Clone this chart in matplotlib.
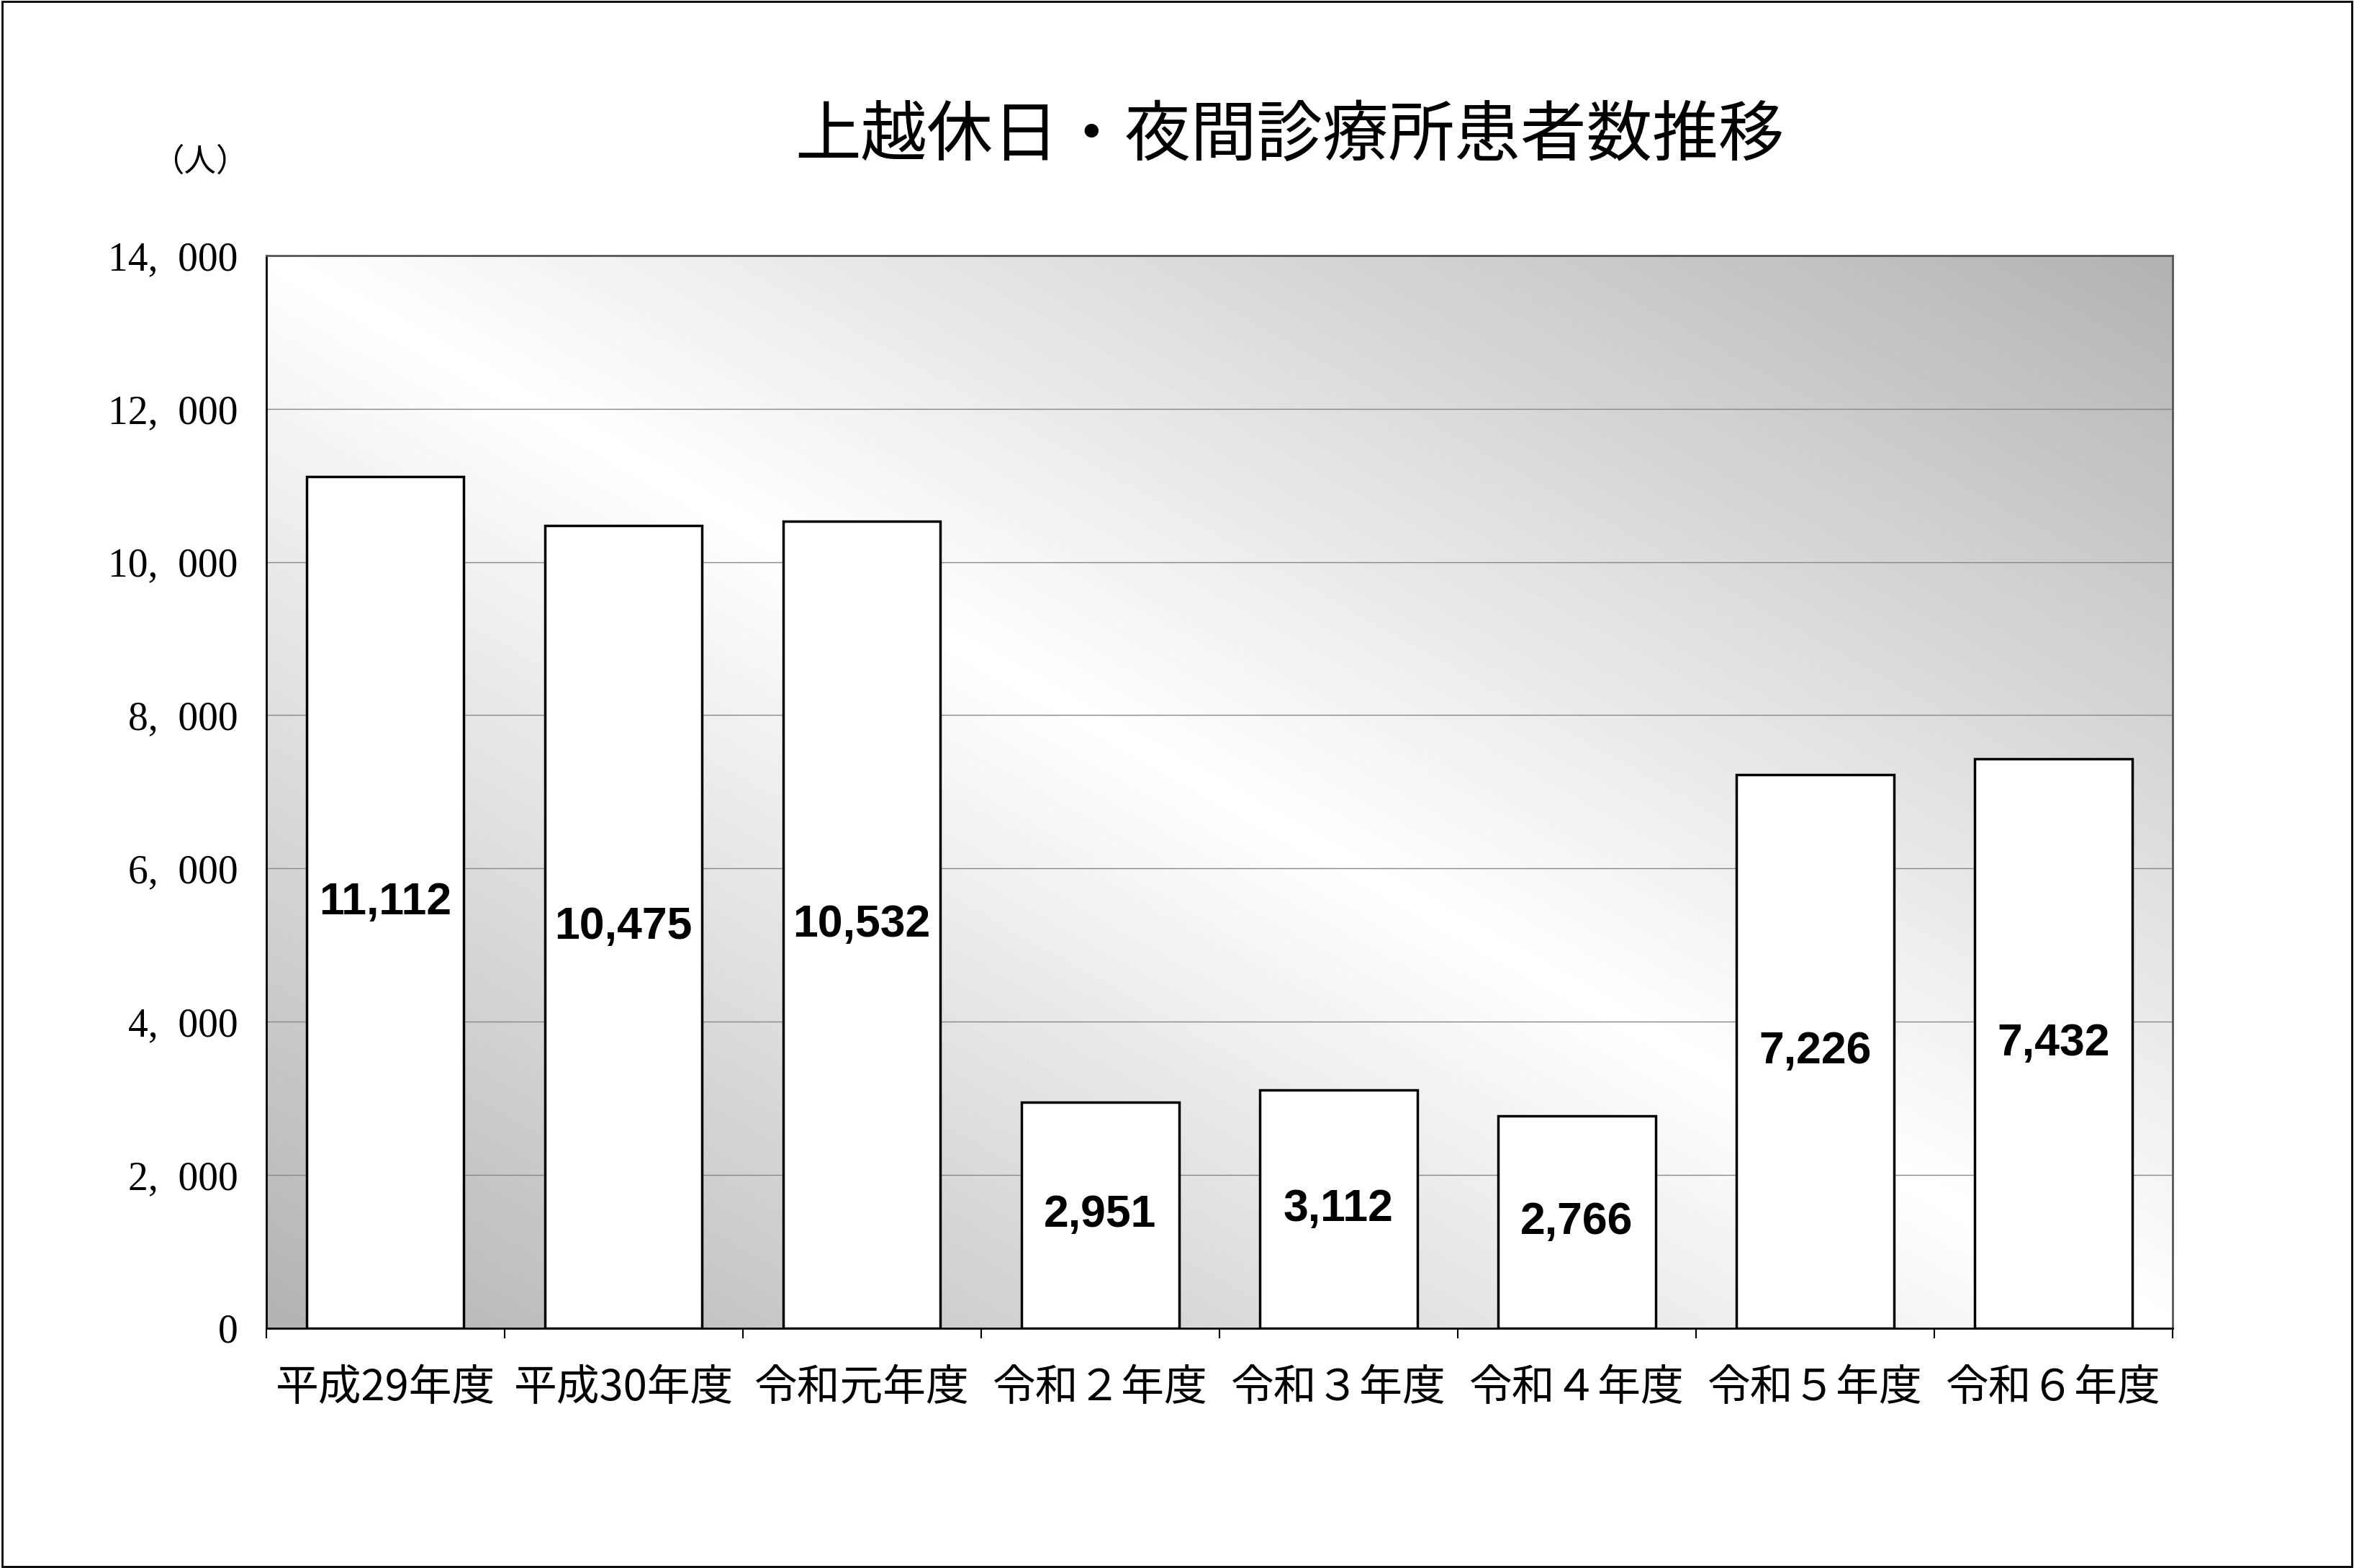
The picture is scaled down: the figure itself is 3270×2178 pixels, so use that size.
import matplotlib
matplotlib.use("Agg")
import matplotlib.pyplot as plt
import numpy as np
from matplotlib.patches import Rectangle

categories = ["平成29年度", "平成30年度", "令和元年度", "令和２年度", "令和３年度", "令和４年度", "令和５年度", "令和６年度"]
values = [11112, 10475, 10532, 2951, 3112, 2766, 7226, 7432]
yticks = [0, 2000, 4000, 6000, 8000, 10000, 12000, 14000]

jp = ["Noto Sans CJK JP", "DejaVu Sans"]
fig = plt.figure(figsize=(32.7, 21.78), dpi=100)
fig.patches.append(Rectangle((0.001, 0.001), 0.998, 0.998, transform=fig.transFigure,
                             fill=False, edgecolor="black", linewidth=2))
ax = fig.add_axes([0.113, 0.153, 0.81, 0.684])
n = len(categories)
ax.set_xlim(-0.5, n - 0.5)
ax.set_ylim(0, 14000)

xx, yy = np.meshgrid(np.linspace(0, 1, 300), np.linspace(0, 1, 300))
d = np.abs((xx + (1 - yy)) / 2 - 0.5) * 2
g = 1.0 - 0.3 * d
ax.imshow(g, cmap="gray", vmin=0, vmax=1, extent=(-0.5, n - 0.5, 0, 14000),
          aspect="auto", origin="upper", zorder=0)

for t in yticks[1:-1]:
    ax.axhline(t, color="#888888", linewidth=1, zorder=1)

x = np.arange(n)
ax.bar(x, values, width=0.66, color="white", edgecolor="black", linewidth=2.5, zorder=2)
for xi, v in zip(x, values):
    ax.text(xi, v / 2, f"{v:,}", ha="center", va="center", fontsize=45,
            fontweight="bold", family="Liberation Sans", zorder=3)

ax.set_yticks(yticks)
ax.set_yticklabels([f"{t:,}".replace(",", ",  ") for t in yticks], family="Liberation Serif", fontsize=40)
ax.set_xticks(np.arange(-0.5, n, 1.0))
ax.set_xticklabels([])
ax.tick_params(axis="x", length=10, width=1.5)
ax.tick_params(axis="y", length=0, pad=28)
for xi, c in zip(x, categories):
    ax.text(xi, -500, c, ha="center", va="top", fontsize=43, family=jp)
for s in ax.spines.values():
    s.set_linewidth(2)
ax.spines["top"].set_color("#555555")
ax.spines["right"].set_color("#555555")

fig.text(0.548, 0.913, "上越休日・夜間診療所患者数推移", ha="center", va="center", fontsize=66, family=jp)
fig.text(0.085, 0.897, "（人）", ha="center", va="center", fontsize=32, family=jp)

fig.savefig("out.png", dpi=100)
